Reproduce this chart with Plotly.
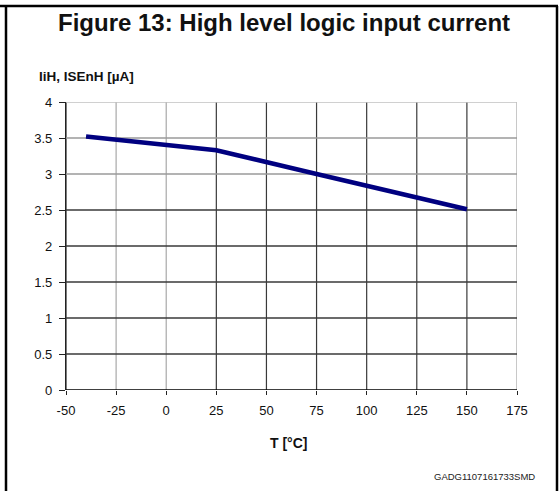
import plotly.graph_objects as go

# ---- data ----
temps = [-40, 25, 75, 150]
current_uA = [3.52, 3.33, 3.00, 2.51]

x_ticks = [-50, -25, 0, 25, 50, 75, 100, 125, 150, 175]
y_ticks = [0, 0.5, 1, 1.5, 2, 2.5, 3, 3.5, 4]
x_grid_colors = ["#222222", "#a8a8a8", "#a8a8a8", "#3a3a3a", "#3a3a3a", "#3a3a3a",
                 "#3a3a3a", "#3a3a3a", "#3a3a3a", "#c8c8c8"]
y_grid_colors = ["#000000", "#3a3a3a", "#3a3a3a", "#3a3a3a", "#3a3a3a", "#3a3a3a",
                 "#9a9a9a", "#9a9a9a", "#c0c0c0"]

title_text = "Figure 13: High level logic input current"
y_title = "IiH, ISEnH [µA]"
x_title = "T [°C]"
footer = "GADG1107161733SMD"

# ---- layout geometry (pixels) ----
W, H = 559, 491
L, R, T, B = 66, 42, 102, 101
PW, PH = W - L - R, H - T - B


def px(xp):
    return (xp - L) / PW


def py(yp):
    return (H - B - yp) / PH


FONT = "Liberation Sans, Arial, sans-serif"

fig = go.Figure()
fig.add_trace(go.Scatter(x=temps, y=current_uA, mode="lines",
                         line=dict(color="#000080", width=4.5),
                         showlegend=False, hoverinfo="x+y"))

shapes = []
for v, c in zip(x_ticks, x_grid_colors):
    shapes.append(dict(type="line", xref="x", yref="y", x0=v, x1=v,
                       y0=y_ticks[0], y1=y_ticks[-1],
                       line=dict(color=c, width=2 if v == x_ticks[-1] else 1.2),
                       layer="below"))
for v, c in zip(y_ticks, y_grid_colors):
    shapes.append(dict(type="line", xref="x", yref="y", y0=v, y1=v,
                       x0=x_ticks[0], x1=x_ticks[-1],
                       line=dict(color=c, width=1.5 if v == 0 else 1.4),
                       layer="below"))
# figure frame
TOP = 6
shapes.append(dict(type="line", xref="paper", yref="paper",
                   x0=px(6), x1=px(6), y0=py(TOP), y1=py(H + 6),
                   line=dict(color="black", width=2.5)))
shapes.append(dict(type="line", xref="paper", yref="paper",
                   x0=px(557), x1=px(557), y0=py(TOP), y1=py(H + 6),
                   line=dict(color="black", width=2.5)))
shapes.append(dict(type="line", xref="paper", yref="paper",
                   x0=px(0), x1=px(558), y0=py(TOP), y1=py(TOP),
                   line=dict(color="black", width=2.5)))

annotations = [
    dict(text=f"<b>{title_text}</b>", xref="paper", yref="paper",
         x=px(284), y=py(22), xanchor="center", yanchor="middle",
         showarrow=False, font=dict(family=FONT, size=24, color="#111111")),
    dict(text=f"<b>{y_title}</b>", xref="paper", yref="paper",
         x=px(37), y=py(76), xanchor="left", yanchor="middle",
         showarrow=False, font=dict(family=FONT, size=13.5, color="#111111")),
    dict(text=f"<b>{x_title}</b>", xref="paper", yref="paper",
         x=px(288), y=py(443), xanchor="center", yanchor="middle",
         showarrow=False, font=dict(family=FONT, size=14, color="#111111")),
    dict(text=footer, xref="paper", yref="paper",
         x=px(537), y=py(476), xanchor="right", yanchor="middle",
         showarrow=False, font=dict(family=FONT, size=9.5, color="#222222")),
]

fig.update_layout(
    width=W, height=H,
    margin=dict(l=L, r=R, t=T, b=B, pad=0),
    paper_bgcolor="white", plot_bgcolor="white",
    shapes=shapes, annotations=annotations,
    font=dict(family=FONT, size=13, color="#111111"),
    xaxis=dict(range=[x_ticks[0], x_ticks[-1]], tickvals=x_ticks,
               ticktext=[str(v) for v in x_ticks],
               showgrid=False, zeroline=False, showline=False,
               ticks="outside", ticklen=4, tickwidth=1, tickcolor="#222222",
               ticklabelstandoff=4,
               tickfont=dict(family=FONT, size=13, color="#111111")),
    yaxis=dict(range=[y_ticks[0], y_ticks[-1]], tickvals=y_ticks,
               ticktext=[f"{v:g}" for v in y_ticks],
               showgrid=False, zeroline=False, showline=True,
               linecolor="#222222", linewidth=1.2,
               ticks="outside", ticklen=6, tickwidth=1, tickcolor="#222222",
               ticklabelstandoff=4,
               tickfont=dict(family=FONT, size=13, color="#111111")),
)

fig.write_html(
    "out.html",
    config={"displayModeBar": False},
    post_script="document.body.style.margin='0';document.body.style.padding='0';"
                "document.body.style.overflow='hidden';",
)
